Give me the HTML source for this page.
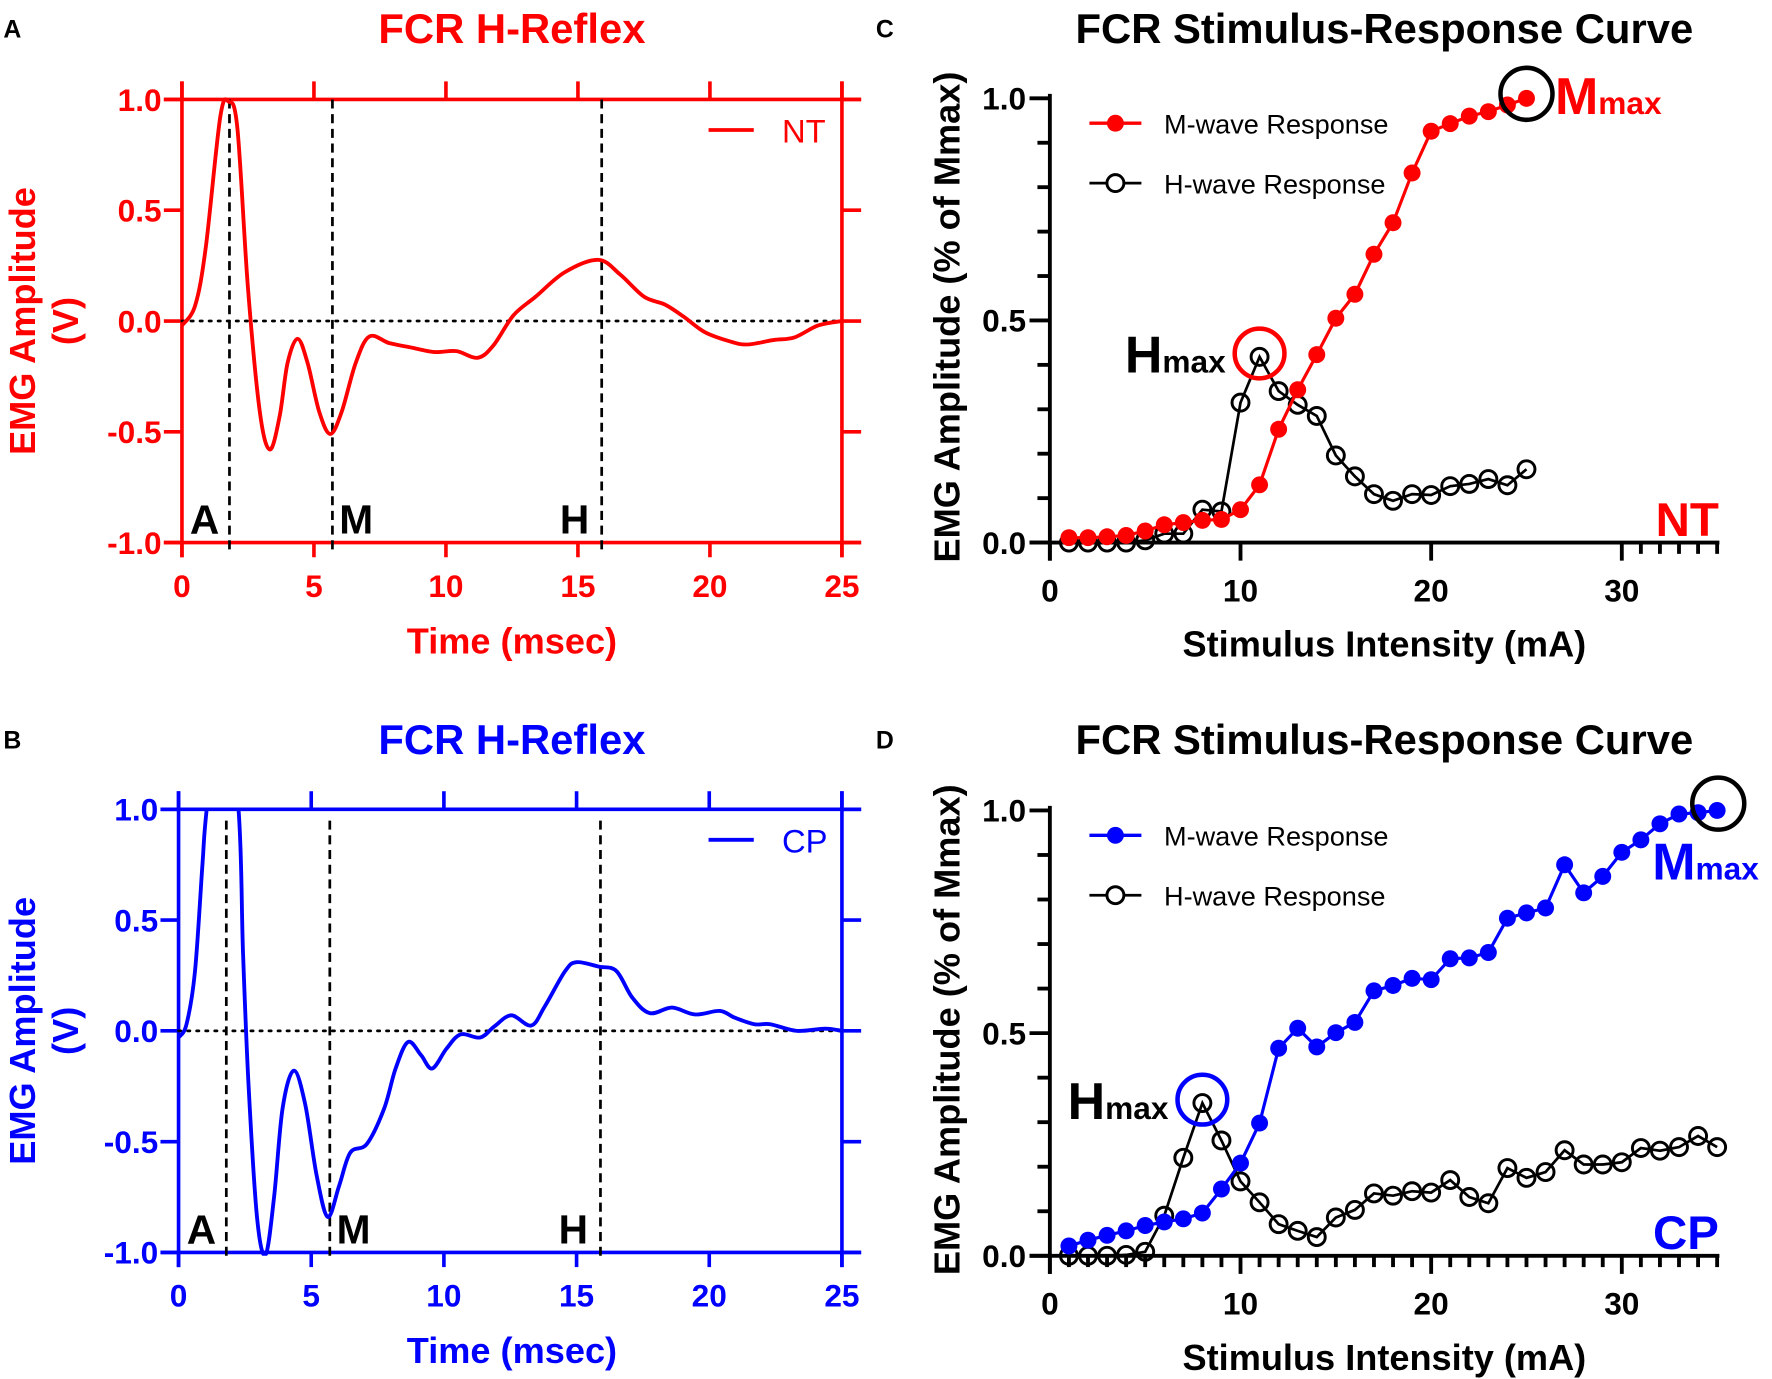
<!DOCTYPE html>
<html><head><meta charset="utf-8"><style>
html,body{margin:0;padding:0;background:#fff;}
svg{display:block;font-family:"Liberation Sans",Arial,sans-serif;}
</style></head><body>
<svg id="fig" width="1772" height="1379" viewBox="0 0 1568 1220" preserveAspectRatio="none">
<defs>
<clipPath id="clipB"><rect x="150" y="716" width="610" height="395"/></clipPath>
</defs>
<g id="root"></g>
</svg>
<script>
// ---------- Data ----------
const ntTime = [0,0.5,0.9,1.45,1.77,2.1,2.5,2.95,3.33,3.7,4.0,4.38,4.76,5.2,5.62,6.05,6.58,7.1,7.86,8.7,9.57,10.4,11.2,11.8,12.56,13.4,14.5,15.77,16.6,17.5,18.3,19,19.8,20.7,21.4,22.4,23.2,24.1,25];
const ntAmp = [-0.02,0.07,0.33,0.92,0.99,0.87,0.15,-0.41,-0.58,-0.43,-0.19,-0.08,-0.19,-0.41,-0.51,-0.41,-0.19,-0.07,-0.1,-0.12,-0.14,-0.136,-0.166,-0.11,0.026,0.11,0.22,0.276,0.21,0.11,0.074,0.02,-0.05,-0.09,-0.106,-0.086,-0.074,-0.02,0.0];
const cpTime = [0,0.3,0.62,0.9,1.06,1.65,2.26,2.43,2.64,2.96,3.28,3.6,3.92,4.34,4.77,5.2,5.62,6.05,6.47,7.1,7.75,8.18,8.65,9.14,9.56,10.1,10.63,11.37,11.9,12.54,13.29,13.8,14.57,15.0,15.84,16.5,17.1,17.76,18.6,19.46,20.4,20.95,21.7,22.3,23.3,24.36,25];
const cpAmp = [-0.03,0.03,0.27,0.75,1.0,1.6,1.0,0.35,-0.25,-0.845,-1.01,-0.75,-0.35,-0.18,-0.33,-0.65,-0.84,-0.7,-0.55,-0.51,-0.35,-0.17,-0.05,-0.11,-0.17,-0.08,-0.016,-0.03,0.02,0.07,0.024,0.11,0.27,0.31,0.29,0.27,0.15,0.08,0.105,0.074,0.09,0.06,0.03,0.03,0.0,0.01,0.0];
const markerTimes = [1.8,5.7,15.9];
const markerLetters = ["A","M","H"];
const timeTicks = [0,5,10,15,20,25];
const ampTicks = [1.0,0.5,0.0,-0.5,-1.0];
const ampTickLabels = ["1.0","0.5","0.0","-0.5","-1.0"];

const ntIntensity = [1,2,3,4,5,6,7,8,9,10,11,12,13,14,15,16,17,18,19,20,21,22,23,24,25];
const ntMwave = [0.011,0.011,0.013,0.016,0.026,0.04,0.045,0.05,0.052,0.074,0.13,0.255,0.344,0.423,0.505,0.559,0.649,0.72,0.832,0.926,0.943,0.96,0.97,0.985,1.0];
const ntHwave = [0,0,0,0,0.005,0.02,0.02,0.074,0.07,0.315,0.418,0.341,0.31,0.285,0.196,0.149,0.109,0.094,0.109,0.107,0.127,0.132,0.143,0.129,0.165];
const cpIntensity = [1,2,3,4,5,6,7,8,9,10,11,12,13,14,15,16,17,18,19,20,21,22,23,24,25,26,27,28,29,30,31,32,33,34,35];
const cpMwave = [0.022,0.035,0.046,0.056,0.068,0.076,0.083,0.096,0.15,0.208,0.298,0.466,0.511,0.469,0.501,0.524,0.595,0.607,0.623,0.62,0.667,0.669,0.681,0.758,0.77,0.781,0.878,0.815,0.852,0.906,0.934,0.97,0.992,0.995,1.0];
const cpHwave = [0,0,0,0.002,0.009,0.09,0.22,0.343,0.259,0.167,0.12,0.071,0.056,0.042,0.086,0.103,0.14,0.135,0.145,0.142,0.17,0.132,0.118,0.197,0.175,0.188,0.237,0.205,0.205,0.21,0.242,0.236,0.244,0.269,0.244];
const srXTicks = [0,10,20,30];
const srYTicks = [0,0.5,1.0];
const srYTickLabels = ["0.0","0.5","1.0"];

// ---------- helpers ----------
const NS = "http://www.w3.org/2000/svg";
const root = document.getElementById("root");
function mk(tag, attrs, parent, txt){
  const e = document.createElementNS(NS, tag);
  for (const k in attrs) e.setAttribute(k, attrs[k]);
  if (txt !== undefined) e.textContent = txt;
  (parent||root).appendChild(e);
  return e;
}
function smoothPath(pts){
  let d = "M" + pts[0][0] + "," + pts[0][1];
  for (let i=0;i<pts.length-1;i++){
    const p0 = pts[Math.max(0,i-1)], p1 = pts[i], p2 = pts[i+1], p3 = pts[Math.min(pts.length-1,i+2)];
    const c1x = p1[0] + (p2[0]-p0[0])/6, c1y = p1[1] + (p2[1]-p0[1])/6;
    const c2x = p2[0] - (p3[0]-p1[0])/6, c2y = p2[1] - (p3[1]-p1[1])/6;
    d += " C" + c1x + "," + c1y + " " + c2x + "," + c2y + " " + p2[0] + "," + p2[1];
  }
  return d;
}

// ---------- waveform panels ----------
function wavePanel(cfg){
  const g = mk("g", {});
  
  
  const col = cfg.color;
  const X = t => cfg.x0 + (t/25)*(cfg.x1-cfg.x0);
  const Y = v => cfg.yZero - v*(cfg.yZero-cfg.yTop);
  const yBot = Y(-1), yTop = Y(1);
  const pl = mk("text",{x:3,y:cfg.titleY+8,"font-size":22,"font-weight":"bold",fill:"#000"},g,cfg.letter);
  
  
  const tt = mk("text",{x:453,y:cfg.titleY+13,"font-size":37,"font-weight":"bold",fill:col,"text-anchor":"middle"},g,"FCR H-Reflex");
  
  
  const sw = 3.2;
  mk("line",{x1:X(0)-16,y1:yTop,x2:X(25)+17,y2:yTop,stroke:col,"stroke-width":sw},g);
  mk("line",{x1:X(0)-16,y1:yBot,x2:X(25)+17,y2:yBot,stroke:col,"stroke-width":sw},g);
  mk("line",{x1:X(0),y1:yTop-16,x2:X(0),y2:yBot+13,stroke:col,"stroke-width":sw},g);
  mk("line",{x1:X(25),y1:yTop-16,x2:X(25),y2:yBot+13,stroke:col,"stroke-width":sw},g);
  timeTicks.forEach(t=>{
    mk("line",{x1:X(t),y1:yTop-16,x2:X(t),y2:yTop,stroke:col,"stroke-width":sw},g);
    mk("line",{x1:X(t),y1:yBot,x2:X(t),y2:yBot+13,stroke:col,"stroke-width":sw},g);
    const l = mk("text",{x:X(t),y:yBot+48,"font-size":28,"font-weight":"bold",fill:col,"text-anchor":"middle"},g,String(t));
    
    
  });
  ampTicks.forEach((v,i)=>{
    mk("line",{x1:X(0)-16,y1:Y(v),x2:X(0),y2:Y(v),stroke:col,"stroke-width":sw},g);
    mk("line",{x1:X(25),y1:Y(v),x2:X(25)+17,y2:Y(v),stroke:col,"stroke-width":sw},g);
    const l = mk("text",{x:X(0)-18,y:Y(v)+10,"font-size":28,"font-weight":"bold",fill:col,"text-anchor":"end"},g,ampTickLabels[i]);
    
    
  });
  const xt = mk("text",{x:453,y:yBot+98,"font-size":32,"font-weight":"bold",fill:col,"text-anchor":"middle"},g,"Time (msec)");
  
  
  const yc = (yTop+yBot)/2;
  const yt = mk("text",{x:0,y:0,"font-size":32,"font-weight":"bold",fill:col,"text-anchor":"middle",transform:"translate(31,"+yc+") rotate(-90)"},g,"EMG Amplitude");
  
  
  mk("text",{x:0,y:0,"font-size":32,"font-weight":"bold",fill:col,"text-anchor":"middle",transform:"translate(69,"+yc+") rotate(-90)"},g,"(V)");
  const z = mk("line",{x1:X(0),y1:Y(0),x2:X(25),y2:Y(0),stroke:"#000","stroke-width":2.4,"stroke-dasharray":"2 6","stroke-linecap":"round"},g);
  
  
  markerTimes.forEach((t,i)=>{
    const m = mk("line",{x1:X(t),y1:yTop+cfg.dashStart,x2:X(t),y2:yBot+7,stroke:"#000","stroke-width":2.4,"stroke-dasharray":"8 5"},g);
    
    
    const lx = [X(t)-22, X(t)+21, X(t)-24][i];
    const lt = mk("text",{x:lx,y:yBot-8,"font-size":36,"font-weight":"bold",fill:"#000","text-anchor":"middle"},g,markerLetters[i]);
    
    
  });
  const pts = cfg.t.map((t,i)=>[X(t),Y(cfg.v[i])]);
  const p = mk("path",{d:smoothPath(pts),fill:"none",stroke:col,"stroke-width":3.4,"stroke-linejoin":"round"},g);
  if (cfg.clip) p.setAttribute("clip-path","url(#"+cfg.clip+")");
  
  
  const lg = mk("g",{},g);
  
  
  mk("line",{x1:627,y1:yTop+27,x2:667,y2:yTop+27,stroke:col,"stroke-width":3.4},lg);
  mk("text",{x:692,y:yTop+38,"font-size":29,fill:col},lg,cfg.legend);
}

wavePanel({name:"panel-a-nt-h-reflex",letter:"A",titleY:25,color:"#ff0000",x0:161,x1:745,yTop:88,yZero:284,t:ntTime,v:ntAmp,legend:"NT",dashStart:0});
wavePanel({name:"panel-b-cp-h-reflex",letter:"B",titleY:654,color:"#0000ff",x0:158,x1:745,yTop:716,yZero:912,t:cpTime,v:cpAmp,legend:"CP",clip:"clipB",dashStart:10});

// ---------- stimulus-response panels ----------
function srPanel(cfg){
  const g = mk("g", {});
  
  
  const col = cfg.color;
  const x0 = 929, pxPerMA = 16.87;
  const X = v => x0 + v*pxPerMA;
  const Y = v => cfg.yZero - v*(cfg.yZero-cfg.yTop);
  const pl = mk("text",{x:775,y:cfg.titleY+8,"font-size":22,"font-weight":"bold",fill:"#000"},g,cfg.letter);
  
  
  const tt = mk("text",{x:1225,y:cfg.titleY+13,"font-size":37,"font-weight":"bold",fill:"#000","text-anchor":"middle"},g,"FCR Stimulus-Response Curve");
  
  
  const sw = 3.4;
  mk("line",{x1:X(0),y1:Y(1)-4,x2:X(0),y2:Y(0)+16,stroke:"#000","stroke-width":sw},g);
  mk("line",{x1:X(0)-18,y1:Y(0),x2:X(35)+2,y2:Y(0),stroke:"#000","stroke-width":sw},g);
  for (let k=0;k<=10;k++){
    const v = k/10, major = (k%5===0);
    mk("line",{x1:X(0)-(major?18:11),y1:Y(v),x2:X(0),y2:Y(v),stroke:"#000","stroke-width":sw},g);
  }
  for (let m=cfg.minorStart;m<=35;m++){
    if (m%10===0) continue;
    mk("line",{x1:X(m),y1:Y(0),x2:X(m),y2:Y(0)+10,stroke:"#000","stroke-width":sw},g);
  }
  srXTicks.forEach(t=>{
    mk("line",{x1:X(t),y1:Y(0),x2:X(t),y2:Y(0)+16,stroke:"#000","stroke-width":sw},g);
    const l = mk("text",{x:X(t),y:Y(0)+52,"font-size":28,"font-weight":"bold",fill:"#000","text-anchor":"middle"},g,String(t));
    
    
  });
  srYTicks.forEach((v,i)=>{
    const l = mk("text",{x:X(0)-21,y:Y(v)+10,"font-size":28,"font-weight":"bold",fill:"#000","text-anchor":"end"},g,srYTickLabels[i]);
    
    
  });
  const xt = mk("text",{x:1225,y:Y(0)+101,"font-size":32,"font-weight":"bold",fill:"#000","text-anchor":"middle"},g,"Stimulus Intensity (mA)");
  
  
  const yt = mk("text",{x:0,y:0,"font-size":32,"font-weight":"bold",fill:"#000","text-anchor":"middle",transform:"translate(849,"+((Y(0)+Y(1))/2-3)+") rotate(-90)"},g,"EMG Amplitude (% of Mmax)");
  
  
  const hs = mk("g",{},g);
  
  
  mk("polyline",{points:cfg.x.map((x,i)=>X(x)+","+Y(cfg.h[i])).join(" "),fill:"none",stroke:"#000","stroke-width":2.4},hs);
  cfg.x.forEach((x,i)=>{
    const c = mk("circle",{cx:X(x),cy:Y(cfg.h[i]),r:7.5,fill:"none",stroke:"#000","stroke-width":2.6},hs);
    
    
  });
  const ms = mk("g",{},g);
  
  
  mk("polyline",{points:cfg.x.map((x,i)=>X(x)+","+Y(cfg.m[i])).join(" "),fill:"none",stroke:col,"stroke-width":2.8},ms);
  cfg.x.forEach((x,i)=>{
    const c = mk("circle",{cx:X(x),cy:Y(cfg.m[i]),r:7.5,fill:col},ms);
    
    
  });
  let hi = 0; cfg.h.forEach((v,i)=>{ if (v>cfg.h[hi]) hi=i; });
  const hc = mk("circle",{cx:X(cfg.x[hi]),cy:Y(cfg.h[hi])-3,r:22,fill:"none",stroke:col,"stroke-width":4},g);
  
  
  const ht = mk("text",{x:X(cfg.x[hi])-30,y:Y(cfg.h[hi])+14,"text-anchor":"end",fill:"#000","font-weight":"bold"},g);
  
  
  mk("tspan",{"font-size":46},ht,"H");
  mk("tspan",{"font-size":28},ht,"max");
  let mi = cfg.m.length-1;
  const mc = mk("circle",{cx:X(cfg.x[mi])+cfg.mcOff[0],cy:Y(cfg.m[mi])+cfg.mcOff[1],r:23,fill:"none",stroke:"#000","stroke-width":4},g);
  
  
  const mt = mk("text",{x:cfg.mLabel[0],y:cfg.mLabel[1],fill:col,"font-weight":"bold"},g);
  
  
  mk("tspan",{"font-size":46},mt,"M");
  mk("tspan",{"font-size":28},mt,"max");
  const gl = mk("text",{x:1521,y:Y(0)-6,"font-size":42,"font-weight":"bold",fill:col,"text-anchor":"end"},g,cfg.group);
  
  
  const l1 = mk("g",{},g);
  
  
  mk("line",{x1:964,y1:Y(1)+22,x2:1010,y2:Y(1)+22,stroke:col,"stroke-width":3},l1);
  mk("circle",{cx:987,cy:Y(1)+22,r:7.5,fill:col},l1);
  mk("text",{x:1030,y:Y(1)+31,"font-size":24,fill:"#000"},l1,"M-wave Response");
  const l2 = mk("g",{},g);
  
  
  mk("line",{x1:964,y1:Y(1)+75,x2:1010,y2:Y(1)+75,stroke:"#000","stroke-width":2.4},l2);
  mk("circle",{cx:987,cy:Y(1)+75,r:7.5,fill:"#fff",stroke:"#000","stroke-width":2.6},l2);
  mk("text",{x:1030,y:Y(1)+84,"font-size":24,fill:"#000"},l2,"H-wave Response");
}

srPanel({name:"panel-c-nt-stimulus-response",letter:"C",titleY:25,color:"#ff0000",yTop:87,yZero:480,x:ntIntensity,m:ntMwave,h:ntHwave,group:"NT",minorStart:31,mcOff:[0,-4],mLabel:[1376,101]});
srPanel({name:"panel-d-cp-stimulus-response",letter:"D",titleY:654,color:"#0000ff",yTop:717,yZero:1111,x:cpIntensity,m:cpMwave,h:cpHwave,group:"CP",minorStart:1,mcOff:[1,-6],mLabel:[1462,778]});
</script>
</body></html>
